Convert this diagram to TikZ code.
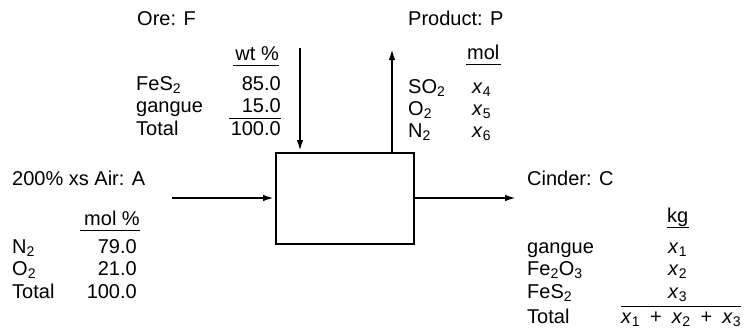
\documentclass[tikz,border=0pt]{standalone}
\usepackage{fontspec}
\setmainfont{Liberation Sans}
\usepackage{tikz}
\usetikzlibrary{arrows.meta,positioning}

\begin{document}
\begin{tikzpicture}[
  x=1pt, y=-1pt,
  txt/.style={inner sep=0pt, anchor=base west, font=\fontsize{20}{22}\selectfont},
  num/.style={txt, anchor=base east},
  head/.style={txt, text depth=5pt},
  total/.style={txt, text height=16pt},
  unit/.style={draw, rectangle, line width=1.6pt, inner sep=0pt, minimum width=138pt, minimum height=91pt},
  flow/.style={-{Latex[length=12pt,width=6.5pt]}, line width=2.6pt},
  rule/.style={line width=1.1pt}
]
  \useasboundingbox (0,0) rectangle (746,332);

  % Nodes
  \node[unit, anchor=north west] (roaster) at (275,152) {};

  % Ore: F
  \node[txt] (ore) at (137,25) {Ore: F};
  \node[head, anchor=base east] (ore_unit) at (279,60) {wt \%};
  \node[txt] (ore_fes) at (136,90) {FeS\textsubscript{2}};
  \node[num] (ore_fes_v) at (281,90) {85.0};
  \node[txt] (ore_gan) at (136,112) {gangue};
  \node[num] (ore_gan_v) at (281,112) {15.0};
  \node[txt] (ore_tot) at (136,135) {Total};
  \node[total, anchor=base east] (ore_tot_v) at (281,135) {100.0};

  % Product: P
  \node[txt] (prod) at (408,25) {Product: P};
  \node[head] (prod_unit) at (467,59) {mol};
  \node[txt] (prod_so) at (408,93) {SO\textsubscript{2}};
  \node[txt] (prod_so_v) at (472,93) {\textit{x}\textsubscript{4}};
  \node[txt] (prod_o) at (408,115) {O\textsubscript{2}};
  \node[txt] (prod_o_v) at (472,115) {\textit{x}\textsubscript{5}};
  \node[txt] (prod_n) at (408,137) {N\textsubscript{2}};
  \node[txt] (prod_n_v) at (472,137) {\textit{x}\textsubscript{6}};

  % 200% xs Air: A
  \node[txt] (air) at (12,185) {200\% xs Air: A};
  \node[head, anchor=base east] (air_unit) at (140,225) {mol \%};
  \node[txt] (air_n) at (12,253) {N\textsubscript{2}};
  \node[num] (air_n_v) at (137,253) {79.0};
  \node[txt] (air_o) at (12,275) {O\textsubscript{2}};
  \node[num] (air_o_v) at (137,275) {21.0};
  \node[txt] (air_tot) at (12,298) {Total};
  \node[num] (air_tot_v) at (137,298) {100.0};

  % Cinder: C
  \node[txt] (cin) at (527,185) {Cinder: C};
  \node[head] (cin_unit) at (667,222) {kg};
  \node[txt] (cin_gan) at (527,253) {gangue};
  \node[txt] (cin_gan_v) at (668,253) {\textit{x}\textsubscript{1}};
  \node[txt] (cin_feo) at (527,275) {Fe\textsubscript{2}O\textsubscript{3}};
  \node[txt] (cin_feo_v) at (668,275) {\textit{x}\textsubscript{2}};
  \node[txt] (cin_fes) at (527,298) {FeS\textsubscript{2}};
  \node[txt] (cin_fes_v) at (668,298) {\textit{x}\textsubscript{3}};
  \node[txt] (cin_tot) at (527,323) {Total};
  \node[total] (cin_tot_v) at (621,323) {\textit{x}\textsubscript{1}\enspace+\enspace\textit{x}\textsubscript{2}\enspace+\enspace\textit{x}\textsubscript{3}};

  % Underlines and sum lines
  \draw[rule] ([xshift=-2pt]ore_unit.south west) -- (ore_unit.south east);
  \draw[rule] ([xshift=-1pt]prod_unit.south west) -- ([xshift=1pt]prod_unit.south east);
  \draw[rule] ([xshift=-4pt]air_unit.south west) -- (air_unit.south east);
  \draw[rule] (cin_unit.south west) -- (cin_unit.south east);
  \draw[rule] ([xshift=-2pt]ore_tot_v.north west) -- (ore_tot_v.north east);
  \draw[rule] (cin_tot_v.north west) -- (cin_tot_v.north east);

  % Arrows
  \coordinate (ore_in) at (300,48);
  \coordinate (prod_out) at (392,48);
  \coordinate (air_in) at (172,198);
  \coordinate (cin_out) at (517,198);
  \draw[flow] (ore_in) -- (ore_in |- roaster.north);
  \draw[flow] (prod_out |- roaster.north) -- (prod_out);
  \draw[flow] (air_in) -- (air_in -| roaster.west);
  \draw[flow] (roaster.east |- cin_out) -- (cin_out);
\end{tikzpicture}
\end{document}
